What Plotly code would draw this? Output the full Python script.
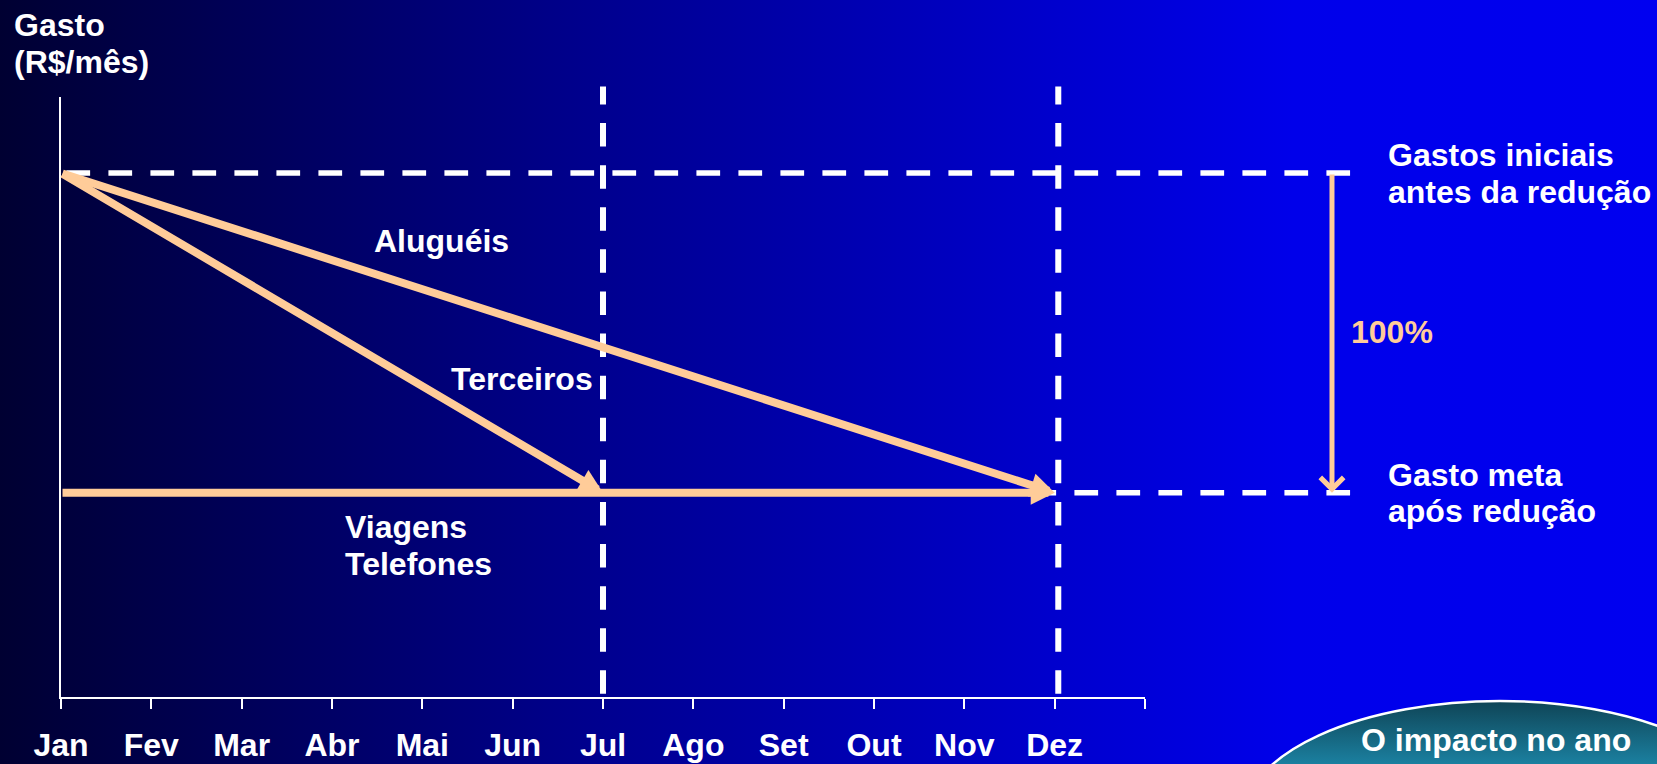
import base64
import plotly.graph_objects as go

# ---------------- data ----------------
months = ["Jan", "Fev", "Mar", "Abr", "Mai", "Jun", "Jul", "Ago", "Set", "Out", "Nov", "Dez"]
month_ticks = list(range(13))          # 12 months + end of year tick
gasto_inicial = 100                    # initial spend level (index)
gasto_meta = 39                        # target spend level (index)

arrow_names = ["Aluguéis", "Terceiros", "Viagens/Telefones"]
arrow_start_month = [0, 0, 0]
arrow_end_month = [11, 6, 11]
arrow_start_val = [gasto_inicial, gasto_inicial, gasto_meta]
arrow_end_val = [gasto_meta, gasto_meta, gasto_meta]

marcos_month = [6, 11.04]              # Jul and Dez reference lines
reducao_txt = "100%"

# ---------------- geometry / style ----------------
W, H = 1657, 764
AX_L, AX_R = 61, 1145                  # x-axis pixel extent
AX_B, AX_T = 697, 97                   # y-axis pixel extent
Y_TOP = 114.5
PPM = (AX_R - AX_L) / 12.0
PPU = (AX_B - AX_T) / Y_TOP

PEACH = "rgb(255,204,153)"
WHITE = "#ffffff"
FONT = "Liberation Sans, Arial, Helvetica, sans-serif"
FS = 32

guide_x_start, guide_x_end = 0.06, 14.27
guide_y_start, guide_y_end = 0.6, 116.5
reducao_x = 14.07

def px_x(p):
    return p / W

def px_y(p):
    return 1 - p / H

svg = f'''<svg xmlns="http://www.w3.org/2000/svg" width="{W}" height="{H}" viewBox="0 0 {W} {H}">
<defs>
<linearGradient id="bg" x1="0" y1="0" x2="1" y2="0">
<stop offset="0" stop-color="rgb(0,0,50)"/>
<stop offset="0.34" stop-color="rgb(0,0,138)"/>
<stop offset="0.64" stop-color="rgb(0,0,206)"/>
<stop offset="0.78" stop-color="rgb(0,0,234)"/>
<stop offset="1" stop-color="rgb(0,0,240)"/>
</linearGradient>
<linearGradient id="el" x1="0" y1="0" x2="0" y2="1">
<stop offset="0" stop-color="rgb(15,68,86)"/>
<stop offset="0.27" stop-color="rgb(27,128,160)"/>
<stop offset="1" stop-color="rgb(40,165,205)"/>
</linearGradient>
</defs>
<rect x="0" y="0" width="{W}" height="{H}" fill="url(#bg)"/>
<ellipse cx="1500" cy="818" rx="256" ry="117" fill="url(#el)" stroke="white" stroke-width="2.5"/>
</svg>'''
svg_uri = "data:image/svg+xml;base64," + base64.b64encode(svg.encode("utf-8")).decode("ascii")

fig = go.Figure()

# empty trace to keep the axes subplot
fig.add_trace(go.Scatter(x=[], y=[], xaxis="x", yaxis="y", showlegend=False, hoverinfo="skip"))

DASH = "23.7px,18.3px"
# horizontal guide lines (initial and target spend)
for lvl in [gasto_inicial, gasto_meta]:
    fig.add_trace(go.Scatter(
        x=[guide_x_start, guide_x_end], y=[lvl, lvl], xaxis="x2", yaxis="y2",
        mode="lines", line=dict(color=WHITE, width=5.5, dash=DASH),
        showlegend=False, hoverinfo="skip"))
# vertical guide lines (Jul, Dez)
for m in marcos_month:
    fig.add_trace(go.Scatter(
        x=[m, m], y=[guide_y_start, guide_y_end], xaxis="x2", yaxis="y2",
        mode="lines", line=dict(color=WHITE, width=6, dash="23.5px,18.6px"),
        showlegend=False, hoverinfo="skip"))

annotations = []
# reduction arrows
for sm, em, sv, ev in zip(arrow_start_month, arrow_end_month, arrow_start_val, arrow_end_val):
    annotations.append(dict(
        x=em, y=ev, ax=sm, ay=sv, xref="x2", yref="y2", axref="x2", ayref="y2",
        text="", showarrow=True, arrowhead=2, arrowsize=0.6, arrowwidth=8,
        arrowcolor=PEACH, standoff=0))
# 100% arrow
annotations.append(dict(
    x=reducao_x, y=gasto_meta, ax=reducao_x, ay=gasto_inicial,
    xref="x2", yref="y2", axref="x2", ayref="y2",
    text="", showarrow=True, arrowhead=4, arrowsize=0.9, arrowwidth=5,
    arrowcolor=PEACH, standoff=0))

def lab(text, xpx, ypx, xanchor="left", color=WHITE):
    annotations.append(dict(
        text=text, x=px_x(xpx), y=px_y(ypx), xref="paper", yref="paper",
        xanchor=xanchor, yanchor="middle", showarrow=False,
        font=dict(family=FONT, size=FS, color=color, weight="bold")))

lab("Gasto", 12, 25)
lab("(R$/mês)", 12, 62)
lab(arrow_names[0], 441, 241, "center")
lab(arrow_names[1], 522, 379, "center")
lab("Viagens", 343, 527)
lab("Telefones", 343, 564)
lab("Gastos iniciais", 1386, 155)
lab("antes da redução", 1386, 192)
lab("Gasto meta", 1386, 475)
lab("após redução", 1386, 511)
lab(reducao_txt, 1392, 332, "center", PEACH)
lab("O impacto no ano", 1496, 740, "center")

fig.update_layout(
    width=W, height=H,
    margin=dict(l=0, r=0, t=0, b=0, pad=0, autoexpand=False),
    paper_bgcolor="rgb(0,0,140)",
    plot_bgcolor="rgba(0,0,0,0)",
    showlegend=False,
    images=[dict(source=svg_uri, xref="paper", yref="paper", x=0, y=1,
                 sizex=1, sizey=1, sizing="stretch", xanchor="left", yanchor="top",
                 layer="below")],
    xaxis=dict(
        domain=[AX_L / W, AX_R / W], range=[0, 12], anchor="y", automargin=False,
        tickmode="array", tickvals=month_ticks, ticktext=months + [""],
        ticks="outside", ticklen=10, tickwidth=2, tickcolor=WHITE,
        showline=True, linecolor=WHITE, linewidth=2,
        showgrid=False, zeroline=False, ticklabelstandoff=9,
        tickfont=dict(family=FONT, size=FS, color=WHITE, weight="bold"),
        fixedrange=True),
    yaxis=dict(
        domain=[1 - AX_B / H, 1 - AX_T / H], range=[0, Y_TOP], anchor="x",
        automargin=False,
        showline=True, linecolor=WHITE, linewidth=2,
        showticklabels=False, ticks="", showgrid=False, zeroline=False,
        fixedrange=True),
    xaxis2=dict(
        domain=[0, 1], range=[-AX_L / PPM, (W - AX_L) / PPM], anchor="y2",
        automargin=False,
        visible=False, showgrid=False, zeroline=False, fixedrange=True),
    yaxis2=dict(
        domain=[0, 1], range=[-(H - AX_B) / PPU, AX_B / PPU], anchor="x2",
        automargin=False,
        visible=False, showgrid=False, zeroline=False, fixedrange=True),
    annotations=annotations,
)

fig.write_html("out.html", config={"displayModeBar": False})
